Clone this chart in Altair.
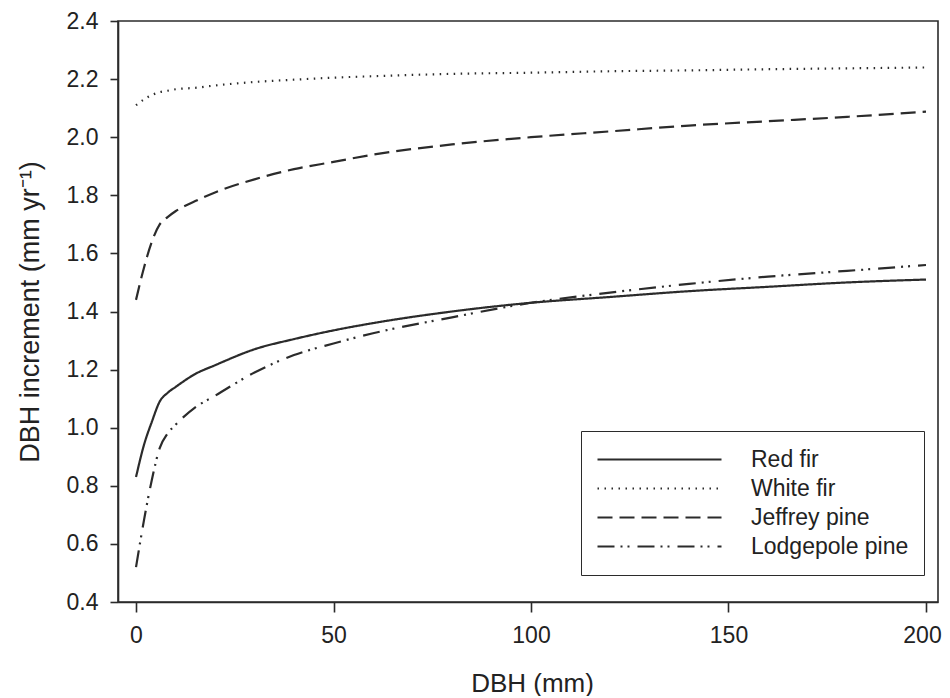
import altair as alt
import pandas as pd

dbh = [0, 2, 4, 6, 8, 10, 15, 20, 30, 40, 50, 60, 80, 100, 120, 140, 160, 180, 200]

red_fir = [0.83, 0.94, 1.02, 1.09, 1.12, 1.14, 1.185, 1.215, 1.27, 1.305, 1.335, 1.36,
           1.40, 1.43, 1.45, 1.47, 1.485, 1.50, 1.51]
white_fir = [2.11, 2.13, 2.145, 2.155, 2.16, 2.165, 2.17, 2.178, 2.19, 2.198, 2.205, 2.21,
             2.218, 2.222, 2.227, 2.23, 2.234, 2.237, 2.24]
jeffrey_pine = [1.44, 1.55, 1.64, 1.70, 1.725, 1.745, 1.78, 1.81, 1.855, 1.89, 1.915, 1.94,
                1.975, 2.0, 2.02, 2.04, 2.055, 2.07, 2.088]
lodgepole_pine = [0.52, 0.68, 0.82, 0.93, 0.98, 1.01, 1.07, 1.11, 1.19, 1.25, 1.29, 1.325,
                  1.38, 1.43, 1.465, 1.495, 1.52, 1.54, 1.56]

species = ["Red fir", "White fir", "Jeffrey pine", "Lodgepole pine"]
series = [red_fir, white_fir, jeffrey_pine, lodgepole_pine]
dashes = [[1, 0], [1.5, 5.5], [15, 7], [17, 6, 2, 5, 2, 8]]

y_ticks = [0.4, 0.6, 0.8, 1.0, 1.2, 1.4, 1.6, 1.8, 2.0, 2.2, 2.4]
x_ticks = [0, 50, 100, 150, 200]

rows = []
for name, vals in zip(species, series):
    for x, y in zip(dbh, vals):
        rows.append({"dbh": x, "inc": y, "species": name})
df = pd.DataFrame(rows)

FONT = "Liberation Sans"
INK = "#2b2b2b"

chart = alt.Chart(df).mark_line(interpolate="monotone", strokeWidth=2.2, color=INK).encode(
    x=alt.X("dbh:Q",
            scale=alt.Scale(domain=[-4.56, 203.04], nice=False, zero=False),
            axis=alt.Axis(values=x_ticks, title="DBH (mm)", grid=False,
                          tickSize=10, labelPadding=12, labelFontSize=23,
                          labelOffset={"condition": {"test": "datum.value === 200", "value": -4},
                                       "value": 0},
                          titleFontSize=26, titleFontWeight="normal",
                          titleBaseline="alphabetic", titleX=414, titleY=89)),
    y=alt.Y("inc:Q",
            scale=alt.Scale(domain=[0.4, 2.4], nice=False, zero=False),
            axis=alt.Axis(values=y_ticks, format=".1f", title="DBH increment (mm yr⁻¹)",
                          grid=False, tickSize=8, labelPadding=12, labelFontSize=23,
                          titleFontSize=27, titleFontWeight="normal",
                          titleBaseline="middle", titleX=-88, titleY=290.5)),
    strokeDash=alt.StrokeDash("species:N",
                              scale=alt.Scale(domain=species, range=dashes),
                              sort=species,
                              legend=alt.Legend(title=None, orient="none",
                                                legendX=463, legendY=410)),
    detail="species:N",
).properties(
    width=820,
    height=581,
    padding={"left": 110, "top": 13, "right": 4, "bottom": 94},
    autosize=alt.AutoSizeParams(type="none"),
).configure(
    font=FONT,
    background="white",
).configure_view(
    stroke=INK,
    strokeWidth=1.6,
).configure_axis(
    domainColor=INK,
    domainWidth=1.6,
    tickColor=INK,
    tickWidth=1.6,
    labelColor="#222",
    titleColor="#222",
    labelFont=FONT,
    titleFont=FONT,
).configure_legend(
    labelFont=FONT,
    labelFontSize=23,
    labelColor="#222",
    labelLimit=400,
    strokeColor=INK,
    fillColor="white",
    padding=15,
    symbolType="stroke",
    symbolSize=15376,
    symbolStrokeWidth=2.2,
    symbolStrokeColor=INK,
    labelOffset=28,
    clipHeight=27,
    rowPadding=2,
)

chart.save("out.html", embed_options={"renderer": "svg", "actions": False})
